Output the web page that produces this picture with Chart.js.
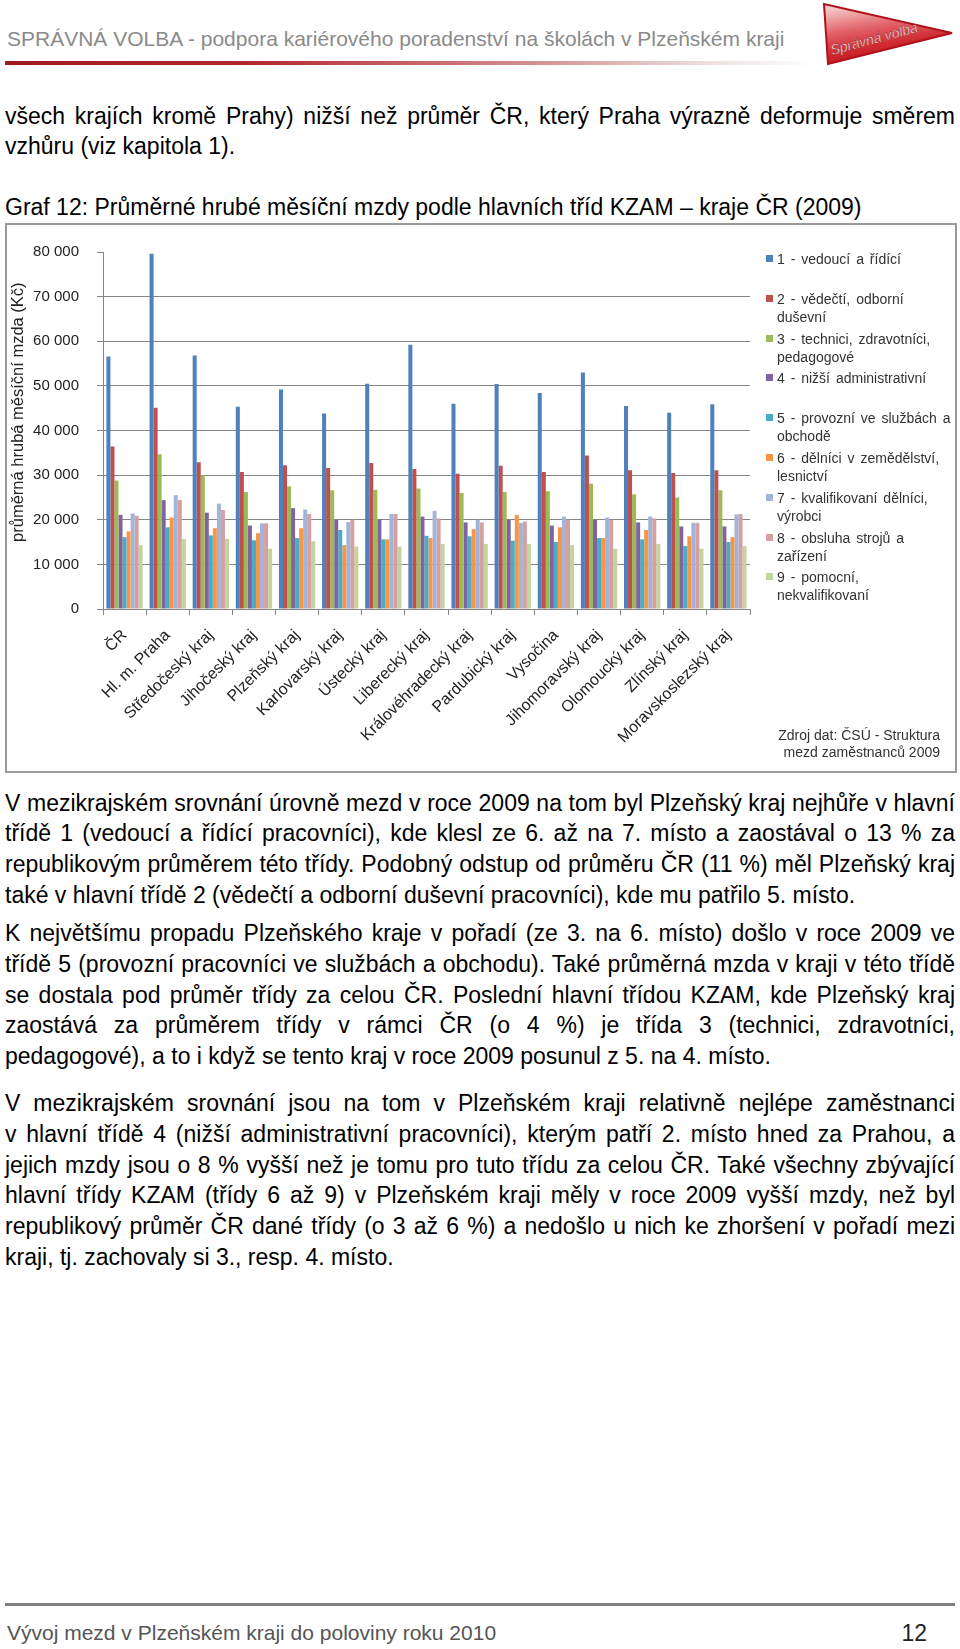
<!DOCTYPE html>
<html lang="cs">
<head>
<meta charset="utf-8">
<script src="https://cdn.jsdelivr.net/npm/chart.js@4.4.1/dist/chart.umd.min.js"></script>
<style>
  html, body { margin: 0; padding: 0; background: #fff; }
  body { width: 960px; height: 1649px; position: relative; overflow: hidden;
         font-family: "Liberation Sans", Arial, sans-serif; color: #000; }
  .abs { position: absolute; }
  .hdr { left: 7px; top: 26px; font-size: 21px; line-height: 26px; color: #8a8a8a; white-space: nowrap; }
  .hline { left: 5px; top: 61px; width: 810px; height: 4px;
           background: linear-gradient(to right, #9e1a20 0%, #b3282e 30%, #d38f90 65%, #eee3e3 88%, rgba(255,255,255,0) 100%); }
  .txt { left: 5px; width: 950px; font-size: 23px; line-height: 30.8px; }
  .txt div { text-align: justify; text-align-last: justify; }
  .txt div.last { text-align-last: left; }
  #box { left: 5px; top: 223px; width: 948px; height: 546px; border: 2px solid #9a9a9a; }
  #chart { position: absolute; left: 0; top: 0; }
  .leg { left: 766px; font-size: 14px; line-height: 18px; color: #333; word-spacing: 2px; }
  .leg i { position: absolute; left: 0; top: 5px; width: 7px; height: 7px; }
  .leg span { display: block; margin-left: 11px; white-space: nowrap; }
  .src { right: 20px; top: 727px; font-size: 14px; line-height: 17px; color: #333; text-align: right; }
  .fline { left: 5px; top: 1603px; width: 950px; height: 3px; background: #808080; }
  .foot { left: 7px; top: 1620px; font-size: 21px; line-height: 26px; color: #555; }
  .pnum { left: 880px; width: 47px; top: 1619px; font-size: 23px; line-height: 28px; color: #222; text-align: right; }
</style>
</head>
<body>
<div class="abs hdr">SPRÁVNÁ VOLBA - podpora kariérového poradenství na školách v Plzeňském kraji</div>
<div class="abs hline"></div>
<svg class="abs" style="left:815px;top:0" width="145" height="70" viewBox="815 0 145 70">
  <defs>
    <linearGradient id="lg" x1="0" y1="0" x2="0.35" y2="1">
      <stop offset="0" stop-color="#f8e0de"/>
      <stop offset="0.45" stop-color="#e2646a"/>
      <stop offset="0.75" stop-color="#cf2a31"/>
      <stop offset="1" stop-color="#c0161d"/>
    </linearGradient>
  </defs>
  <polygon points="824,4 828,64 952,33" fill="url(#lg)" stroke="#b0121a" stroke-width="2"/>
  <text x="832" y="55" transform="rotate(-15 832 55)" font-family="Liberation Sans, Arial" font-size="14" font-style="italic" fill="#fff" stroke="#8a0e14" stroke-width="0.4">Správná volba</text>
</svg>

<div class="abs txt" style="top:100.5px">
  <div>všech krajích kromě Prahy) nižší než průměr ČR, který Praha výrazně deformuje směrem</div>
  <div class="last">vzhůru (viz kapitola 1).</div>
</div>
<div class="abs txt" style="top:191.5px"><div class="last">Graf 12: Průměrné hrubé měsíční mzdy podle hlavních tříd KZAM – kraje ČR (2009)</div></div>

<div id="box" class="abs">
  <canvas id="chart" width="948" height="546"></canvas>
</div>
<div id="legend"></div>
<div class="abs src">Zdroj dat: ČSÚ - Struktura<br>mezd zaměstnanců 2009</div>

<div class="abs txt" style="top:787.5px">
  <div>V mezikrajském srovnání úrovně mezd v roce 2009 na tom byl Plzeňský kraj nejhůře v hlavní</div>
  <div>třídě 1 (vedoucí a řídící pracovníci), kde klesl ze 6. až na 7. místo a zaostával o 13 % za</div>
  <div>republikovým průměrem této třídy. Podobný odstup od průměru ČR (11 %) měl Plzeňský kraj</div>
  <div class="last">také v hlavní třídě 2 (vědečtí a odborní duševní pracovníci), kde mu patřilo 5. místo.</div>
</div>
<div class="abs txt" style="top:918px">
  <div>K největšímu propadu Plzeňského kraje v pořadí (ze 3. na 6. místo) došlo v roce 2009 ve</div>
  <div>třídě 5 (provozní pracovníci ve službách a obchodu). Také průměrná mzda v kraji v této třídě</div>
  <div>se dostala pod průměr třídy za celou ČR. Poslední hlavní třídou KZAM, kde Plzeňský kraj</div>
  <div>zaostává za průměrem třídy v rámci ČR (o 4 %) je třída 3 (technici, zdravotníci,</div>
  <div class="last">pedagogové), a to i když se tento kraj v roce 2009 posunul z 5. na 4. místo.</div>
</div>
<div class="abs txt" style="top:1088px">
  <div>V mezikrajském srovnání jsou na tom v Plzeňském kraji relativně nejlépe zaměstnanci</div>
  <div>v hlavní třídě 4 (nižší administrativní pracovníci), kterým patří 2. místo hned za Prahou, a</div>
  <div>jejich mzdy jsou o 8 % vyšší než je tomu pro tuto třídu za celou ČR. Také všechny zbývající</div>
  <div>hlavní třídy KZAM (třídy 6 až 9) v Plzeňském kraji měly v roce 2009 vyšší mzdy, než byl</div>
  <div>republikový průměr ČR dané třídy (o 3 až 6 %) a nedošlo u nich ke zhoršení v pořadí mezi</div>
  <div class="last">kraji, tj. zachovaly si 3., resp. 4. místo.</div>
</div>

<div class="abs fline"></div>
<div class="abs foot">Vývoj mezd v Plzeňském kraji do poloviny roku 2010</div>
<div class="abs pnum">12</div>

<script>
// Kraje (kategorie osy x)
const categories = ['ČR', 'Hl. m. Praha', 'Středočeský kraj', 'Jihočeský kraj', 'Plzeňský kraj',
  'Karlovarský kraj', 'Ústecký kraj', 'Liberecký kraj', 'Královéhradecký kraj', 'Pardubický kraj',
  'Vysočina', 'Jihomoravský kraj', 'Olomoucký kraj', 'Zlínský kraj', 'Moravskoslezský kraj'];

// Hlavní třídy KZAM - popisky legendy (po řádcích)
const seriesNames = [
  ['1 - vedoucí a řídící'],
  ['2 - vědečtí, odborní', 'duševní'],
  ['3 - technici, zdravotníci,', 'pedagogové'],
  ['4 - nižší administrativní'],
  ['5 - provozní ve službách a', 'obchodě'],
  ['6 - dělníci v zemědělství,', 'lesnictví'],
  ['7 - kvalifikovaní dělníci,', 'výrobci'],
  ['8 - obsluha strojů a', 'zařízení'],
  ['9 - pomocní,', 'nekvalifikovaní']
];

// Průměrné hrubé měsíční mzdy (Kč) podle tříd
const class1 = [56600, 79600, 56800, 45300, 49200, 43800, 50500, 59200, 46000, 50400, 48400, 53000, 45500, 44000, 45900];
const class2 = [36400, 45100, 32900, 30700, 32200, 31600, 32700, 31400, 30300, 32100, 30700, 34400, 31100, 30500, 31100];
const class3 = [28800, 34700, 30000, 26200, 27500, 26600, 26700, 27000, 26000, 26200, 26400, 28100, 25700, 25000, 26600];
const class4 = [21100, 24400, 21600, 18700, 22600, 20000, 20000, 20700, 19400, 20000, 18700, 20000, 19400, 18500, 18500];
const class5 = [16100, 18300, 16500, 15400, 15900, 17700, 15600, 16400, 16300, 15300, 15000, 15900, 15600, 14100, 15000];
const class6 = [17400, 20500, 18100, 17000, 18100, 14300, 15600, 15900, 17900, 21100, 18300, 15900, 17700, 16300, 16100];
const class7 = [21400, 25500, 23600, 19200, 22300, 19500, 21300, 22000, 20000, 19300, 20700, 20500, 20700, 19300, 21200];
const class8 = [20900, 24400, 22200, 19200, 21300, 20000, 21300, 20300, 19400, 19600, 20000, 20000, 20300, 19300, 21300];
const class9 = [14300, 15700, 15700, 13500, 15200, 14000, 14000, 14600, 14600, 14600, 14300, 13500, 14600, 13500, 14100];

// Hodnoty na ose y
const yTicks = [0, 10000, 20000, 30000, 40000, 50000, 60000, 70000, 80000];
const yTitle = 'průměrná hrubá měsíční mzda (Kč)';

const colors = ['#4F81BD', '#C0504D', '#9BBB59', '#8064A2', '#4BACC6', '#F79646', '#A2B5D9', '#D7A0A0', '#C3D59F'];
const allSeries = [class1, class2, class3, class4, class5, class6, class7, class8, class9];

const FONT = '"Liberation Sans", Arial, sans-serif';

function formatThousands(v) {
  return String(v).replace(/\B(?=(\d{3})+(?!\d))/g, ' ');
}

// Legenda vpravo od grafu
function buildLegend() {
  const box = document.getElementById('legend');
  let html = '';
  seriesNames.forEach((lines, i) => {
    const top = 250 + i * 39.8;
    html += `<div class="abs leg" style="top:${top}px"><i style="background:${colors[i]}"></i>` +
      lines.map(l => `<span>${l}</span>`).join('') + '</div>';
  });
  box.innerHTML = html;
}

document.addEventListener('DOMContentLoaded', function() {
  buildLegend();

  const ctx = document.getElementById('chart').getContext('2d');
  new Chart(ctx, {
    type: 'bar',
    data: {
      labels: categories,
      datasets: allSeries.map((data, i) => ({
        label: seriesNames[i].join(' '),
        data: data,
        backgroundColor: colors[i],
        borderWidth: 0,
        categoryPercentage: 0.842,
        barPercentage: 1.0
      }))
    },
    options: {
      responsive: false,
      animation: false,
      devicePixelRatio: 1,
      layout: { padding: { top: 14, right: 205, left: 0, bottom: 0 } },
      plugins: {
        legend: { display: false },
        tooltip: { enabled: false }
      },
      scales: {
        x: {
          grid: { display: true, drawOnChartArea: false, drawTicks: true, tickLength: 6, color: '#868686', offset: true },
          border: { display: true, color: '#868686', width: 1 },
          ticks: {
            autoSkip: false, maxRotation: 45, minRotation: 45, padding: 11,
            color: '#222', font: { family: FONT, size: 16 }
          },
          afterFit: scale => { scale.height = 162; }
        },
        y: {
          min: 0,
          max: 80000,
          afterBuildTicks: scale => { scale.ticks = yTicks.map(v => ({ value: v })); },
          grid: {
            color: c => (c.tick && c.tick.value === 80000) ? 'rgba(0,0,0,0)' : '#868686',
            tickColor: '#868686',
            tickLength: 6
          },
          border: { display: true, color: '#868686', width: 1 },
          ticks: {
            padding: 18, color: '#222', font: { family: FONT, size: 15 },
            callback: v => formatThousands(v)
          },
          title: {
            // mezery na začátku posouvají popisek výš (jako v originále)
            display: true, text: '        ' + yTitle, color: '#222',
            font: { family: FONT, size: 16.5 }, padding: { top: 2, bottom: 0 }
          },
          afterFit: scale => { scale.width = 96; }
        }
      }
    }
  });
});
</script>
</body>
</html>
